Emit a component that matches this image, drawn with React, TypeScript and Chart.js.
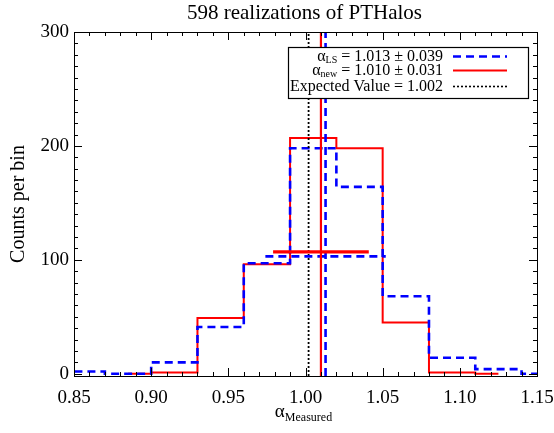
import { useEffect, useRef } from "react";
import { Chart, registerables } from "chart.js";

Chart.register(...registerables);

// Histogram of the measured BAO scale for the PTHalos mocks (bin width 0.03).
const nRealizations = 598;
const binCentersLS = [0.825, 0.855, 0.885, 0.915, 0.945, 0.975, 1.005, 1.035, 1.065, 1.095, 1.125, 1.155];
const countsLS = [2, 2, 0, 10, 41, 97, 198, 164, 68, 14, 4, 0];
const binCentersNew = [0.885, 0.915, 0.945, 0.975, 1.005, 1.035, 1.065, 1.095, 1.125];
const countsNew = [0, 1, 49, 96, 207, 198, 45, 1, 0];

// Summary statistics shown as vertical lines and ±1σ bars.
const meanLS = 1.013;
const sigmaLS = 0.039;
const meanNew = 1.01;
const sigmaNew = 0.031;
const expectedValue = 1.002;
const sigmaBarLevelLS = 103;
const sigmaBarLevelNew = 107;

// Axes.
const xRange = [0.85, 1.15];
const yRange = [-2, 300];
const xMajorTicks = [0.85, 0.9, 0.95, 1.0, 1.05, 1.1, 1.15];
const xMinorStep = 0.01;
const yMajorTicks = [0, 100, 200, 300];
const yMinorStep = 10;

const SERIF = '"Liberation Serif", "Times New Roman", "DejaVu Serif", serif';
const BLUE = "#0000ff";
const RED = "#ff0000";
const BLUE_DASH = [8, 5];
const DOT_DASH = [2, 2];

type Run = { text: string; size: number; dy?: number };

function runWidth(ctx: CanvasRenderingContext2D, runs: Run[]) {
  let w = 0;
  for (const r of runs) {
    ctx.font = `${r.size}px ${SERIF}`;
    w += ctx.measureText(r.text).width;
  }
  return w;
}

function drawRuns(ctx: CanvasRenderingContext2D, runs: Run[], x: number, y: number) {
  let cx = x;
  ctx.textAlign = "left";
  ctx.textBaseline = "alphabetic";
  for (const r of runs) {
    ctx.font = `${r.size}px ${SERIF}`;
    ctx.fillText(r.text, cx, y + (r.dy || 0));
    cx += ctx.measureText(r.text).width;
  }
}

function minorValues(lo: number, hi: number, step: number) {
  const out: number[] = [];
  const n = Math.round((hi - lo) / step);
  for (let i = 0; i <= n; i++) out.push(lo + i * step);
  return out;
}

const framePlugin = {
  id: "idlFrame",
  afterDatasetsDraw(chart: any) {
    const { ctx, chartArea } = chart;
    const xs = chart.scales.x;
    const ys = chart.scales.y;
    const { left, right, top, bottom } = chartArea;

    ctx.save();
    ctx.fillStyle = "#000";
    ctx.strokeStyle = "#000";

    // Legend box
    const boxR = right - 9;
    const boxL = boxR - 240;
    const boxT = top + 15;
    const boxB = boxT + 51;
    ctx.fillStyle = "#fff";
    ctx.fillRect(boxL, boxT, boxR - boxL, boxB - boxT);
    ctx.lineWidth = 1.2;
    ctx.strokeRect(boxL + 0.5, boxT + 0.5, boxR - boxL, boxB - boxT);

    const textRight = boxL + 155;
    const sampleL = boxL + 165;
    const sampleR = boxL + 219;
    const rows: { runs: Run[]; base: number; color: string; dash: number[]; width: number }[] = [
      {
        runs: [
          { text: "α", size: 16 },
          { text: "LS", size: 10, dy: 2 },
          { text: ` = ${meanLS.toFixed(3)} ± ${sigmaLS.toFixed(3)}`, size: 16 },
        ],
        base: boxT + 14,
        color: BLUE,
        dash: BLUE_DASH,
        width: 2.5,
      },
      {
        runs: [
          { text: "α", size: 16 },
          { text: "new", size: 10, dy: 2 },
          { text: ` = ${meanNew.toFixed(3)} ± ${sigmaNew.toFixed(3)}`, size: 16 },
        ],
        base: boxT + 28,
        color: RED,
        dash: [],
        width: 2,
      },
      {
        runs: [{ text: `Expected Value = ${expectedValue.toFixed(3)}`, size: 16 }],
        base: boxT + 44,
        color: "#000",
        dash: DOT_DASH,
        width: 1.6,
      },
    ];
    for (const row of rows) {
      ctx.fillStyle = "#000";
      const w = runWidth(ctx, row.runs);
      drawRuns(ctx, row.runs, textRight - w, row.base);
      ctx.save();
      ctx.strokeStyle = row.color;
      ctx.lineWidth = row.width;
      ctx.setLineDash(row.dash);
      ctx.beginPath();
      ctx.moveTo(sampleL, row.base - 4.5);
      ctx.lineTo(sampleR, row.base - 4.5);
      ctx.stroke();
      ctx.restore();
    }

    // Plot frame
    ctx.strokeStyle = "#000";
    ctx.lineWidth = 1;
    ctx.setLineDash([]);
    ctx.strokeRect(Math.round(left) + 0.5, Math.round(top) + 0.5, Math.round(right - left), Math.round(bottom - top));

    // Inward ticks on all four sides
    ctx.beginPath();
    const xMinor = minorValues(xRange[0], xRange[1], xMinorStep);
    for (const v of xMinor) {
      const isMajor = xMajorTicks.some((m) => Math.abs(m - v) < 1e-6);
      const len = isMajor ? 8 : 4;
      const px = Math.round(xs.getPixelForValue(v)) + 0.5;
      ctx.moveTo(px, bottom);
      ctx.lineTo(px, bottom - len);
      ctx.moveTo(px, top);
      ctx.lineTo(px, top + len);
    }
    const yMinor = minorValues(0, yRange[1], yMinorStep);
    for (const v of yMinor) {
      const isMajor = yMajorTicks.includes(Math.round(v));
      const len = isMajor ? 8 : 4;
      const py = Math.round(ys.getPixelForValue(v)) + 0.5;
      ctx.moveTo(left, py);
      ctx.lineTo(left + len, py);
      ctx.moveTo(right, py);
      ctx.lineTo(right - len, py);
    }
    ctx.stroke();

    // Tick labels
    ctx.fillStyle = "#000";
    ctx.font = `19px ${SERIF}`;
    ctx.textAlign = "center";
    ctx.textBaseline = "alphabetic";
    for (const v of xMajorTicks) {
      ctx.fillText(v.toFixed(2), xs.getPixelForValue(v), bottom + 27);
    }
    ctx.textAlign = "right";
    ctx.textBaseline = "middle";
    for (const v of yMajorTicks) {
      ctx.fillText(String(v), left - 5, ys.getPixelForValue(v));
    }

    // Title
    ctx.font = `21px ${SERIF}`;
    ctx.textAlign = "center";
    ctx.textBaseline = "alphabetic";
    ctx.fillText(`${nRealizations} realizations of PTHalos`, (left + right) / 2 - 1, top - 13);

    // X axis title: alpha with subscript
    const xTitle: Run[] = [
      { text: "α", size: 19 },
      { text: "Measured", size: 12, dy: 4 },
    ];
    const xw = runWidth(ctx, xTitle);
    drawRuns(ctx, xTitle, (left + right) / 2 - xw / 2 - 2, bottom + 41);

    // Y axis title
    ctx.save();
    ctx.translate(19, (top + bottom) / 2);
    ctx.rotate(-Math.PI / 2);
    ctx.font = `20px ${SERIF}`;
    ctx.textAlign = "center";
    ctx.textBaseline = "middle";
    ctx.fillText("Counts per bin", 0, 0);
    ctx.restore();

    ctx.restore();
  },
};

function toPoints(xv: number[], yv: number[]) {
  return xv.map((x, i) => ({ x, y: yv[i] }));
}

export default function App() {
  const canvasRef = useRef<HTMLCanvasElement | null>(null);

  useEffect(() => {
    const canvas = canvasRef.current;
    if (!canvas) return;

    const lineBase = { showLine: true, pointRadius: 0, pointHoverRadius: 0, fill: false, tension: 0 };

    const chart = new Chart(canvas, {
      type: "scatter",
      data: {
        datasets: [
          {
            ...lineBase,
            label: "new histogram",
            data: toPoints(binCentersNew, countsNew),
            stepped: "middle",
            borderColor: RED,
            borderWidth: 2,
            order: 7,
          },
          {
            ...lineBase,
            label: "LS histogram",
            data: toPoints(binCentersLS, countsLS),
            stepped: "middle",
            borderColor: BLUE,
            borderWidth: 2.6,
            borderDash: BLUE_DASH,
            order: 6,
          },
          {
            ...lineBase,
            label: "expected",
            data: [
              { x: expectedValue, y: yRange[0] },
              { x: expectedValue, y: yRange[1] },
            ],
            borderColor: "#000",
            borderWidth: 1.8,
            borderDash: DOT_DASH,
            order: 5,
          },
          {
            ...lineBase,
            label: "LS sigma",
            data: [
              { x: meanLS - sigmaLS, y: sigmaBarLevelLS },
              { x: meanLS + sigmaLS, y: sigmaBarLevelLS },
            ],
            borderColor: BLUE,
            borderWidth: 2.6,
            borderDash: BLUE_DASH,
            order: 4,
          },
          {
            ...lineBase,
            label: "LS mean",
            data: [
              { x: meanLS, y: yRange[0] },
              { x: meanLS, y: yRange[1] },
            ],
            borderColor: BLUE,
            borderWidth: 2.6,
            borderDash: BLUE_DASH,
            order: 3,
          },
          {
            ...lineBase,
            label: "new mean",
            data: [
              { x: meanNew, y: yRange[0] },
              { x: meanNew, y: yRange[1] },
            ],
            borderColor: RED,
            borderWidth: 2.2,
            order: 2,
          },
          {
            ...lineBase,
            label: "new sigma",
            data: [
              { x: meanNew - sigmaNew, y: sigmaBarLevelNew },
              { x: meanNew + sigmaNew, y: sigmaBarLevelNew },
            ],
            borderColor: RED,
            borderWidth: 3.2,
            order: 1,
          },
        ] as any,
      },
      options: {
        responsive: false,
        animation: false,
        events: [],
        layout: { padding: { left: 74, right: 17, top: 32, bottom: 57 } },
        scales: {
          x: { type: "linear", min: xRange[0], max: xRange[1], display: false },
          y: { type: "linear", min: yRange[0], max: yRange[1], display: false },
        },
        plugins: {
          legend: { display: false },
          tooltip: { enabled: false },
          title: { display: false },
        },
      },
      plugins: [framePlugin],
    });

    return () => chart.destroy();
  }, []);

  return (
    <div style={{ position: "fixed", left: 0, top: 0, width: 554, height: 433, background: "#fff" }}>
      <canvas ref={canvasRef} width={554} height={433} style={{ display: "block" }} />
    </div>
  );
}
